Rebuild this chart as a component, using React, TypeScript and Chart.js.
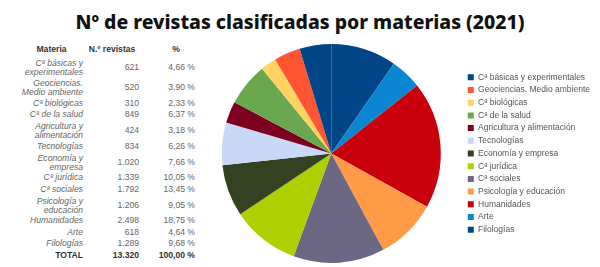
import React, { useEffect, useRef } from "react";
import { Chart, registerables } from "chart.js";

Chart.register(...registerables);

const title = "Nº de revistas clasificadas por materias (2021)";
const categories = [
  "Cª básicas y experimentales",
  "Geociencias. Medio ambiente",
  "Cª biológicas",
  "Cª de la salud",
  "Agricultura y alimentación",
  "Tecnologías",
  "Economía y empresa",
  "Cª jurídica",
  "Cª sociales",
  "Psicología y educación",
  "Humanidades",
  "Arte",
  "Filologías",
];
const tableLabels = [
  "Cª básicas y\nexperimentales",
  "Geociencias.\nMedio ambiente",
  "Cª biológicas",
  "Cª de la salud",
  "Agricultura y\nalimentación",
  "Tecnologías",
  "Economía y\nempresa",
  "Cª jurídica",
  "Cª sociales",
  "Psicología y\neducación",
  "Humanidades",
  "Arte",
  "Filologías",
];
const revistas = [621, 520, 310, 849, 424, 834, 1020, 1339, 1792, 1206, 2498, 618, 1289];
const revistasText = ["621", "520", "310", "849", "424", "834", "1.020", "1.339", "1.792", "1.206", "2.498", "618", "1.289"];
const percentText = ["4,66 %", "3,90 %", "2,33 %", "6,37 %", "3,18 %", "6,26 %", "7,66 %", "10,05 %", "13,45 %", "9,05 %", "18,75 %", "4,64 %", "9,68 %"];
const totalText = ["TOTAL", "13.320", "100,00 %"];
const headers = ["Materia", "N.º revistas", "%"];
const colors = [
  "#004586",
  "#ff5533",
  "#ffd35f",
  "#6aa84f",
  "#7e0021",
  "#c9d8f6",
  "#344221",
  "#aecf00",
  "#6c6783",
  "#ff9a46",
  "#c9000b",
  "#0a85d1",
  "#004586",
];

const tableFont = "'Liberation Sans', Arial, sans-serif";

function DataTable() {
  const colLeft = [20, 85, 141];
  const colW = [65, 56, 56];
  const rowStyle = (h: number): React.CSSProperties => ({ position: "relative", height: h });
  const cell = (i: number, align: "left" | "right" | "center", extra: React.CSSProperties = {}): React.CSSProperties => ({
    position: "absolute",
    left: colLeft[i],
    width: colW[i] - 2,
    top: "50%",
    transform: "translateY(-50%)",
    textAlign: align,
    whiteSpace: "pre-line",
    lineHeight: "9.3px",
    ...extra,
  });
  return (
    <div style={{ position: "absolute", left: 0, top: 42, width: 210, fontFamily: tableFont, fontSize: "8.6px", color: "#666" }}>
      <div style={rowStyle(16)}>
        <div style={cell(0, "center", { fontWeight: "bold", color: "#333" })}>{headers[0]}</div>
        <div style={cell(1, "center", { fontWeight: "bold", color: "#333" })}>{headers[1]}</div>
        <div style={cell(2, "center", { fontWeight: "bold", color: "#333", paddingLeft: 16, width: colW[2] - 18 })}>{headers[2]}</div>
      </div>
      {tableLabels.map((lab, i) => {
        const h = lab.includes("\n") ? 20 : 11.5;
        return (
          <div key={i} style={rowStyle(h)}>
            <div style={cell(0, "right", { fontStyle: "italic" })}>{lab}</div>
            <div style={cell(1, "right")}>{revistasText[i]}</div>
            <div style={cell(2, "right")}>{percentText[i]}</div>
          </div>
        );
      })}
      <div style={rowStyle(11.5)}>
        <div style={cell(0, "right", { fontWeight: "bold", color: "#333" })}>{totalText[0]}</div>
        <div style={cell(1, "right", { fontWeight: "bold", color: "#333" })}>{totalText[1]}</div>
        <div style={cell(2, "right", { fontWeight: "bold", color: "#333" })}>{totalText[2]}</div>
      </div>
    </div>
  );
}

function PieChart() {
  const ref = useRef<HTMLCanvasElement>(null);
  useEffect(() => {
    if (!ref.current) return;
    const labels = [...categories].reverse();
    const data = [...revistas].reverse();
    const bg = [...colors].reverse();
    const chart = new Chart(ref.current, {
      type: "pie",
      data: {
        labels,
        datasets: [{ data, backgroundColor: bg, borderWidth: 0 }],
      },
      options: {
        animation: false,
        responsive: false,
        maintainAspectRatio: false,
        layout: { padding: { top: 4, bottom: 4, left: 0, right: 0 } },
        plugins: {
          tooltip: { enabled: false },
          legend: {
            position: "right",
            reverse: true,
            labels: {
              boxWidth: 6,
              boxHeight: 6,
              padding: 4.2,
              color: "#555",
              font: { family: tableFont, size: 8.5 },
            },
          },
        },
      },
    });
    return () => chart.destroy();
  }, []);
  return (
    <div style={{ position: "absolute", left: 199, top: 40, width: 401, height: 227 }}>
      <canvas ref={ref} width={401} height={227} style={{ width: 401, height: 227 }} />
    </div>
  );
}

export default function App() {
  useEffect(() => {
    document.body.style.margin = "0";
  }, []);
  return (
    <div style={{ position: "fixed", left: 0, top: 0, width: 600, height: 267, background: "#fff", overflow: "hidden" }}>
      <div
        style={{
          position: "absolute",
          left: 0,
          top: 8,
          width: 600,
          textAlign: "center",
          fontFamily: "'Noto Sans', sans-serif",
          fontWeight: 800,
          fontSize: "19.4px",
          lineHeight: "28px",
          color: "#111",
        }}
      >
        {title}
      </div>
      <DataTable />
      <PieChart />
    </div>
  );
}
